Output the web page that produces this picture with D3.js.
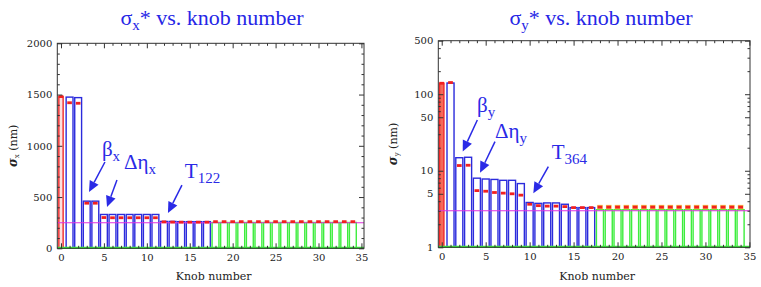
<!DOCTYPE html>
<html>
<head>
<meta charset="utf-8">
<script src="https://cdn.jsdelivr.net/npm/d3@7"></script>
<style>
  body { margin: 0; background: #fff; }
</style>
</head>
<body>
<svg id="chart" width="761" height="287"></svg>
<script>
// knob numbers and which scan group each one belongs to
const knobs = [0, 1, 2, 3, 4, 5, 6, 7, 8, 9, 10, 11, 12, 13, 14, 15, 16, 17,
  18, 19, 20, 21, 22, 23, 24, 25, 26, 27, 28, 29, 30, 31, 32, 33, 34];
const barGroup = ["start",
  "blue", "blue", "blue", "blue", "blue", "blue", "blue", "blue", "blue",
  "blue", "blue", "blue", "blue", "blue", "blue", "blue", "blue",
  "green", "green", "green", "green", "green", "green", "green", "green", "green",
  "green", "green", "green", "green", "green", "green", "green", "green"];

// sigma_x* (nm): bar height and red marker
const sigmaXBar = [1480, 1475, 1470, 460, 460, 330, 330, 330, 330, 330, 330, 330,
  262, 262, 260, 260, 260, 260,
  252, 252, 252, 252, 252, 252, 252, 252, 252, 252, 252, 252, 252, 252, 252, 252, 252];
const sigmaXMark = [1480, 1420, 1415, 440, 440, 300, 298, 298, 298, 298, 298, 298,
  258, 256, 255, 255, 255, 255,
  260, 260, 260, 260, 260, 260, 260, 260, 260, 260, 260, 260, 260, 260, 260, 260, 260];
const sigmaXTarget = 250;

// sigma_y* (nm)
const sigmaYBar = [139, 140, 14.8, 15.0, 8.0, 7.8, 7.7, 7.5, 7.5, 6.8,
  3.85, 3.75, 3.8, 3.8, 3.65, 3.3, 3.3, 3.3,
  3.1, 3.1, 3.1, 3.1, 3.1, 3.1, 3.1, 3.1, 3.1, 3.1, 3.1, 3.1, 3.1, 3.1, 3.1, 3.1, 3.1];
const sigmaYMark = [139, 142, 11.7, 11.8, 5.5, 5.4, 5.2, 5.1, 5.0, 4.8,
  3.65, 3.5, 3.45, 3.45, 3.4, 3.3, 3.3, 3.3,
  3.35, 3.35, 3.35, 3.35, 3.35, 3.35, 3.35, 3.35, 3.35, 3.35, 3.35, 3.35, 3.35, 3.35, 3.35, 3.35, 3.35];
const sigmaYTarget = 3.0;

// ticks
const xTicks = [0, 5, 10, 15, 20, 25, 30, 35];
const xMinorTicks = [1, 2, 3, 4, 6, 7, 8, 9, 11, 12, 13, 14, 16, 17, 18, 19, 21, 22, 23, 24,
  26, 27, 28, 29, 31, 32, 33, 34];
const sigmaXTicks = [0, 500, 1000, 1500, 2000];
const sigmaXMinorTicks = [100, 200, 300, 400, 600, 700, 800, 900, 1100, 1200, 1300, 1400,
  1600, 1700, 1800, 1900];
const sigmaYTicks = [1, 5, 10, 50, 100, 500];
const sigmaYMinorTicks = [2, 3, 4, 6, 7, 8, 9, 20, 30, 40, 60, 70, 80, 90, 200, 300, 400];

// arrow annotations, in data coordinates
const annotX = [
  { label: "β", sub: "x", tx: 4.77, ty: 905, x1: 5.12, y1: 842, x2: 3.26, y2: 549 },
  { label: "Δη", sub: "x", tx: 7.33, ty: 770, x1: 6.52, y1: 666, x2: 5.36, y2: 403 },
  { label: "T", sub: "122", tx: 14.43, ty: 686, x1: 14.09, y1: 617, x2: 12.46, y2: 344 }
];
const annotY = [
  { label: "β", sub: "y", tx: 4.02, ty: 59, x1: 4.05, y1: 46, x2: 2.39, y2: 17.8 },
  { label: "Δη", sub: "y", tx: 6.06, ty: 26.8, x1: 6.06, y1: 24, x2: 4.36, y2: 9.45 },
  { label: "T", sub: "364", tx: 12.51, ty: 14.1, x1: 12.13, y1: 11.3, x2: 10.42, y2: 5.08 }
];

const colors = { start: "#f02a2a", blue: "#2b2bdc", green: "#3ded3d" };
const serif = '"Liberation Serif"';
const plotFont = '"DejaVu Serif"';
const svg = d3.select("#chart");

// every piece of text gets its own font, tspans included
function span(parent, text, family, size, dy) {
  const s = parent.append("tspan")
    .style("font-family", family).style("font-size", size + "px")
    .text(text);
  if (dy) s.attr("dy", dy);
  return s;
}

function drawPanel(p) {
  const g = svg.append("g");
  const x = d3.scaleLinear().domain(p.xDomain).range(p.xRange);
  const y = p.yScale;
  const [left, right] = p.xRange;
  const [bottom, top] = y.range();

  // title
  const title = g.append("text")
    .attr("x", p.titleX).attr("y", 25)
    .attr("text-anchor", "middle")
    .style("font-family", serif).style("font-size", "22px")
    .attr("fill", "#2626e6");
  span(title, "σ", serif, 22);
  span(title, p.sub, serif, 15, 5);
  span(title, "* vs. knob number", serif, 22, -5);

  // bars
  g.selectAll("rect.bar").data(knobs).join("rect")
    .attr("class", "bar")
    .attr("x", k => x(k - (k === 0 ? 0.25 : 0.4)))
    .attr("width", k => x(k + (k === 0 ? 0.25 : 0.4)) - x(k - (k === 0 ? 0.25 : 0.4)))
    .attr("y", k => y(p.bar[k]))
    .attr("height", k => bottom - y(p.bar[k]))
    .attr("fill", k => k === 0 ? p.startFill : "none")
    .attr("stroke", k => colors[barGroup[k]])
    .attr("stroke-width", 1.4);

  // target line
  g.append("line")
    .attr("x1", left).attr("x2", right)
    .attr("y1", y(p.target)).attr("y2", y(p.target))
    .attr("stroke", "#e030e0").attr("stroke-width", 1.1);

  // red markers
  if (p.halo) {
    g.selectAll("line.halo").data(knobs.filter(k => barGroup[k] === "green")).join("line")
      .attr("class", "halo")
      .attr("x1", k => x(k - 0.32)).attr("x2", k => x(k + 0.32))
      .attr("y1", k => y(p.mark[k])).attr("y2", k => y(p.mark[k]))
      .attr("stroke", "#f2c050").attr("stroke-width", 4.5);
  }
  g.selectAll("line.mark").data(knobs).join("line")
    .attr("class", "mark")
    .attr("x1", k => x(k - 0.27)).attr("x2", k => x(k + 0.27))
    .attr("y1", k => y(p.mark[k])).attr("y2", k => y(p.mark[k]))
    .attr("stroke", "#f22020").attr("stroke-width", 2.8);

  // green baseline
  g.append("line")
    .attr("x1", left).attr("x2", right)
    .attr("y1", bottom - 0.5).attr("y2", bottom - 0.5)
    .attr("stroke", colors.green).attr("stroke-width", 2.2);

  // axes, ticks pointing inward
  const axis = (gen, tr) => g.append("g").attr("transform", tr).call(gen)
    .call(a => a.select(".domain").remove())
    .call(a => a.selectAll(".tick line").attr("stroke", "#333"))
    .call(a => a.selectAll(".tick text")
      .style("font-family", plotFont).style("font-size", "10px").attr("fill", "#222"));
  axis(d3.axisBottom(x).tickValues(xTicks).tickSize(-5).tickPadding(6).tickFormat(d3.format("d")),
    `translate(0,${bottom})`);
  axis(d3.axisBottom(x).tickValues(xMinorTicks).tickSize(-2.5).tickFormat(""), `translate(0,${bottom})`);
  axis(d3.axisTop(x).tickValues(xTicks).tickSize(-5).tickFormat(""), `translate(0,${top})`);
  axis(d3.axisTop(x).tickValues(xMinorTicks).tickSize(-2.5).tickFormat(""), `translate(0,${top})`);
  axis(d3.axisLeft(y).tickValues(p.yTicks).tickSize(-5).tickPadding(5).tickFormat(d3.format("d")),
    `translate(${left},0)`);
  axis(d3.axisLeft(y).tickValues(p.yMinor).tickSize(-2.5).tickFormat(""), `translate(${left},0)`);
  axis(d3.axisRight(y).tickValues(p.yTicks).tickSize(-5).tickFormat(""), `translate(${right},0)`);
  axis(d3.axisRight(y).tickValues(p.yMinor).tickSize(-2.5).tickFormat(""), `translate(${right},0)`);

  g.append("rect")
    .attr("x", left).attr("y", top)
    .attr("width", right - left).attr("height", bottom - top)
    .attr("fill", "none").attr("stroke", "#333").attr("stroke-width", 1);

  // axis titles
  g.append("text")
    .attr("x", (left + right) / 2 + 3).attr("y", 280)
    .attr("text-anchor", "middle")
    .style("font-family", plotFont).style("font-size", "11px").attr("fill", "#222")
    .text("Knob number");
  const yl = g.append("text")
    .attr("transform", `translate(${p.yLabelX},${(top + bottom) / 2}) rotate(-90)`)
    .attr("text-anchor", "middle")
    .style("font-family", plotFont).style("font-size", "11px").attr("fill", "#222");
  span(yl, "σ", plotFont, 12).style("font-weight", "bold").style("font-style", "italic");
  span(yl, p.sub, plotFont, 7, 2);
  span(yl, " (nm)", plotFont, 11, -2);

  // annotations
  p.annot.forEach(a => {
    const t = g.append("text")
      .attr("x", x(a.tx)).attr("y", y(a.ty))
      .style("font-family", serif).style("font-size", "21px")
      .attr("fill", "#2a2ae6");
    span(t, a.label, serif, 21);
    span(t, a.sub, serif, 15, 5);

    const sx = x(a.x1), sy = y(a.y1), ex = x(a.x2), ey = y(a.y2);
    const len = Math.hypot(ex - sx, ey - sy);
    const ux = (ex - sx) / len, uy = (ey - sy) / len;
    const hl = 11, hw = 5;
    const bx = ex - ux * hl, by = ey - uy * hl;
    g.append("line")
      .attr("x1", sx).attr("y1", sy).attr("x2", bx).attr("y2", by)
      .attr("stroke", "#2a2ae6").attr("stroke-width", 1.5);
    g.append("path")
      .attr("d", `M${ex},${ey}L${bx - uy * hw},${by + ux * hw}L${bx + uy * hw},${by - ux * hw}Z`)
      .attr("fill", "#2a2ae6");
  });
}

drawPanel({
  sub: "x",
  titleX: 212,
  xDomain: [-0.43, 35.3],
  xRange: [57.3, 364],
  yScale: d3.scaleLinear().domain([0, 2000]).range([248.3, 43.3]),
  yTicks: sigmaXTicks,
  yMinor: sigmaXMinorTicks,
  bar: sigmaXBar,
  mark: sigmaXMark,
  target: sigmaXTarget,
  startFill: "#fbe0e0",
  halo: false,
  yLabelX: 17,
  annot: annotX
});

drawPanel({
  sub: "y",
  titleX: 601,
  xDomain: [-0.39, 35.07],
  xRange: [438.3, 750],
  yScale: d3.scaleLog().domain([1, 500]).range([247.3, 40.7]),
  yTicks: sigmaYTicks,
  yMinor: sigmaYMinorTicks,
  bar: sigmaYBar,
  mark: sigmaYMark,
  target: sigmaYTarget,
  startFill: "#f46a5a",
  halo: true,
  yLabelX: 397,
  annot: annotY
});
</script>
</body>
</html>
